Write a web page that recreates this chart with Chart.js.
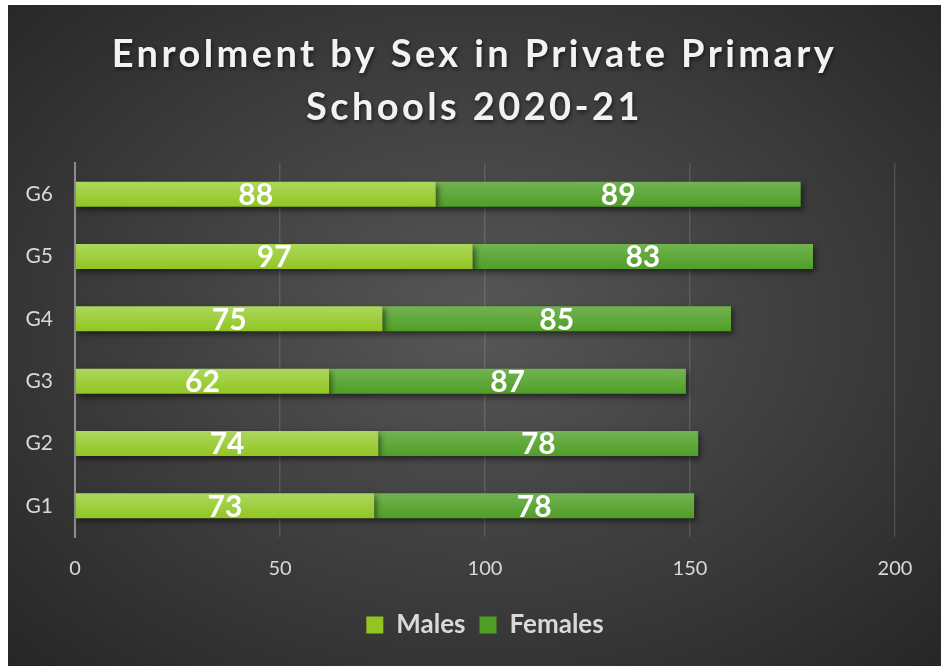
<!DOCTYPE html>
<html>
<head>
<meta charset="utf-8">
<title>Enrolment by Sex in Private Primary Schools 2020-21</title>
<script src="https://cdn.jsdelivr.net/npm/chart.js@4"></script>
<style>
  html, body { margin: 0; padding: 0; background: #fff; }
  #panel {
    position: absolute; left: 8px; top: 5px; width: 933px; height: 661px;
    background: radial-gradient(ellipse farthest-corner at 50% 48%, #575757 0%, #3c3c3c 55%, #262626 100%);
  }
</style>
</head>
<body>
<div id="panel"><canvas id="enrolChart"></canvas></div>
<script>
// Grades listed bottom to top (G1 at the bottom)
const grades = ['G1', 'G2', 'G3', 'G4', 'G5', 'G6'];
const males = [73, 74, 62, 75, 97, 88];
const females = [78, 78, 87, 85, 83, 89];
const titleLines = ['Enrolment by Sex in Private Primary', 'Schools 2020-21'];

const FONT = 'Lato, "Open Sans", sans-serif';
const colors = {
  males: ['#acd85e', '#92c522'],
  females: ['#72b352', '#4f9e26'],
  tick: '#d9d9d9'
};

// vertical gradient per bar, lighter on top
function barFill(pair) {
  return (c) => {
    const chart = c.chart;
    const y = chart.scales && chart.scales.y;
    if (c.dataIndex === undefined || !y) return pair[1];
    const yc = y.getPixelForValue(c.dataIndex);
    const g = chart.ctx.createLinearGradient(0, yc - 13, 0, yc + 13);
    g.addColorStop(0, pair[0]);
    g.addColorStop(1, pair[1]);
    return g;
  };
}

const titlePlugin = {
  id: 'spacedTitle',
  afterDraw(chart) {
    const ctx = chart.ctx;
    ctx.save();
    ctx.font = 'bold 38px ' + FONT;
    ctx.letterSpacing = '3.4px';
    ctx.fillStyle = '#f2f2f2';
    ctx.textAlign = 'center';
    ctx.textBaseline = 'middle';
    ctx.shadowColor = 'rgba(0,0,0,0.6)';
    ctx.shadowBlur = 4;
    ctx.shadowOffsetX = 1;
    ctx.shadowOffsetY = 2;
    const cx = chart.width / 2;
    titleLines.forEach((t, i) => ctx.fillText(t, cx, 50 + i * 53));
    ctx.restore();
  }
};

const barShadow = {
  id: 'barShadow',
  beforeDatasetsDraw(chart) {
    const ctx = chart.ctx;
    ctx.save();
    ctx.shadowColor = 'rgba(0,0,0,0.55)';
    ctx.shadowBlur = 6;
    ctx.shadowOffsetX = 2;
    ctx.shadowOffsetY = 3;
  },
  afterDatasetsDraw(chart) {
    chart.ctx.restore();
  }
};

// value labels centred in each segment
const valueLabels = {
  id: 'valueLabels',
  afterDatasetsDraw(chart) {
    const ctx = chart.ctx;
    ctx.save();
    ctx.font = 'bold 30px ' + FONT;
    ctx.fillStyle = '#ffffff';
    ctx.textAlign = 'center';
    ctx.textBaseline = 'middle';
    chart.data.datasets.forEach((ds, di) => {
      chart.getDatasetMeta(di).data.forEach((bar, i) => {
        const x = (bar.x + bar.base) / 2;
        ctx.fillText(ds.data[i], x, bar.y + 1);
      });
    });
    ctx.restore();
  }
};

new Chart(document.getElementById('enrolChart'), {
  type: 'bar',
  data: {
    labels: grades,
    datasets: [
      { label: 'Males', data: males, backgroundColor: barFill(colors.males), legendColor: colors.males[1] },
      { label: 'Females', data: females, backgroundColor: barFill(colors.females), legendColor: colors.females[1] }
    ]
  },
  options: {
    indexAxis: 'y',
    responsive: true,
    maintainAspectRatio: false,
    animation: false,
    barPercentage: 0.4,
    categoryPercentage: 1,
    layout: { padding: { top: 158, left: 17, right: 46, bottom: 18 } },
    scales: {
      x: {
        stacked: true,
        min: 0,
        max: 200,
        ticks: { stepSize: 50, color: colors.tick, font: { family: FONT, size: 20 }, padding: 20 },
        grid: { color: 'rgba(255,255,255,0.13)', lineWidth: 1.5, drawTicks: false },
        border: { display: false },
        afterFit(scale) { scale.height -= 3; }
      },
      y: {
        stacked: true,
        reverse: true,
        ticks: { color: colors.tick, font: { family: FONT, size: 21 }, padding: 22 },
        grid: { display: false, drawTicks: false },
        border: { display: true, color: '#8c8c8c', width: 2 },
        afterFit(scale) { scale.width = 50; }
      }
    },
    plugins: {
      title: { display: false },
      tooltip: { enabled: false },
      legend: {
        position: 'bottom',
        fullSize: false,
        labels: {
          color: colors.tick,
          font: { family: FONT, size: 26, weight: 'bold' },
          boxWidth: 17,
          boxHeight: 17,
          padding: 14,
          generateLabels(chart) {
            return chart.data.datasets.map((ds, i) => ({
              text: ds.label,
              fillStyle: ds.legendColor,
              strokeStyle: ds.legendColor,
              lineWidth: 0,
              fontColor: colors.tick,
              datasetIndex: i
            }));
          }
        }
      }
    }
  },
  plugins: [titlePlugin, barShadow, valueLabels]
});
</script>
</body>
</html>
